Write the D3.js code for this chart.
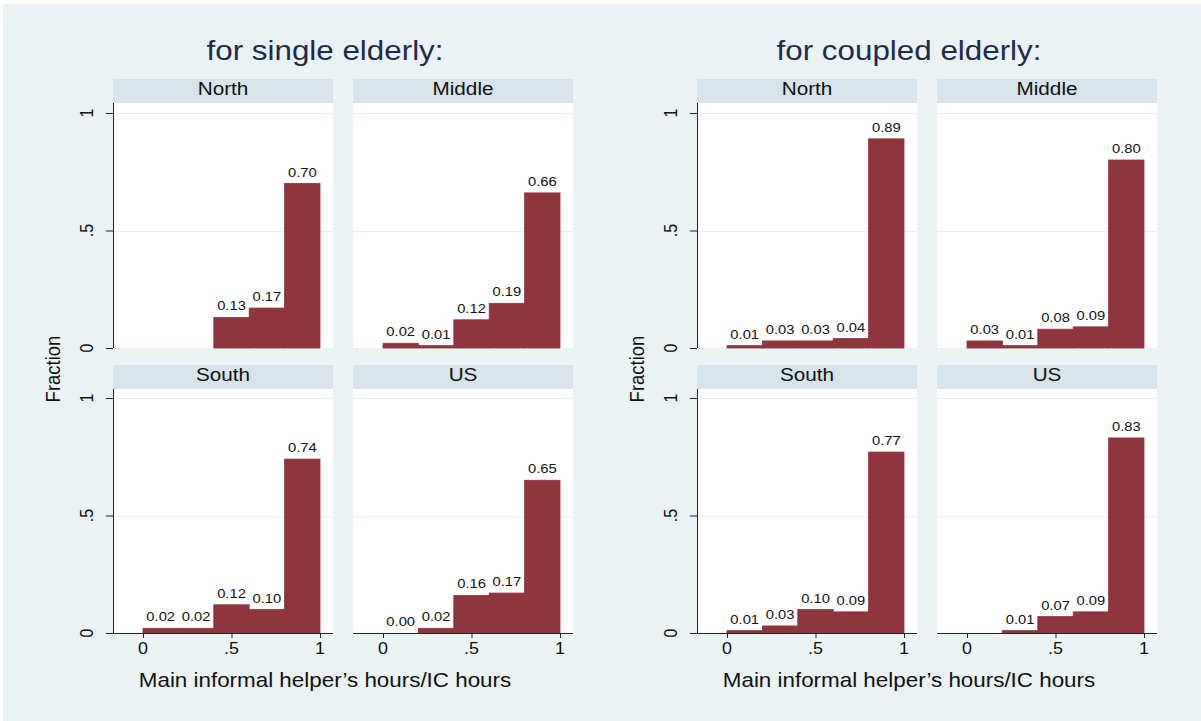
<!DOCTYPE html>
<html>
<head>
<meta charset="utf-8">
<script src="https://cdn.jsdelivr.net/npm/d3@7"></script>
<style>
  html, body { margin: 0; padding: 0; background: #ffffff; }
  svg { display: block; }
</style>
</head>
<body>
<svg id="chart" width="1201" height="721"></svg>
<script>
// Histogram bins (share of care hours given by the main informal helper)
const binEdges = [0, 0.2, 0.4, 0.6, 0.8, 1.0];
const regions = ["North", "Middle", "South", "US"];
const groupTitles = ["for single elderly:", "for coupled elderly:"];

// Fraction per bin; null = empty bin (no bar, no label)
const singleNorth  = [null, null, 0.13, 0.17, 0.70];
const singleMiddle = [0.02, 0.01, 0.12, 0.19, 0.66];
const singleSouth  = [0.02, 0.02, 0.12, 0.10, 0.74];
const singleUS     = [0.00, 0.02, 0.16, 0.17, 0.65];

const coupledNorth  = [0.01, 0.03, 0.03, 0.04, 0.89];
const coupledMiddle = [0.03, 0.01, 0.08, 0.09, 0.80];
const coupledSouth  = [0.01, 0.03, 0.10, 0.09, 0.77];
const coupledUS     = [null, 0.01, 0.07, 0.09, 0.83];

const xTicks = [0, 0.5, 1];
const xTickLabels = ["0", ".5", "1"];
const yTicks = [0, 0.5, 1];
const yTickLabels = ["0", ".5", "1"];

const xTitle = "Main informal helper\u2019s hours/IC hours";
const yTitle = "Fraction";

const groups = [
  [singleNorth, singleMiddle, singleSouth, singleUS],
  [coupledNorth, coupledMiddle, coupledSouth, coupledUS]
];

// ---- styling / layout ----
const FONT = "'Liberation Sans', Arial, Helvetica, sans-serif";
const SX = 1.12;                 // horizontal text stretch
const BG = "#EAF2F3";
const STRIP = "#D7E4E9";
const BAR = "#8E353D";
const GRID = "#E3ECEE";
const GRAPH_DX = 584;            // offset of the second combined graph

const cols = [{x0: 113, x1: 333, zero: 143}, {x0: 353, x1: 573, zero: 383}];
const rows = [{hTop: 79, pTop: 103, base: 348}, {hTop: 365, pTop: 389, base: 633}];
const UNIT_X = 177;              // px per 1.0 on the x axis
const UNIT_Y = 235;              // px per 1.0 on the y axis

const svg = d3.select("#chart");

svg.append("rect").attr("x", 3).attr("y", 4).attr("width", 1198).attr("height", 717)
  .attr("fill", BG);

function label(g, x, y, txt, opts = {}) {
  const rot = opts.rotate || 0;
  return g.append("text")
    .attr("transform", `translate(${x},${y}) scale(${SX},1)` + (rot ? ` rotate(${rot})` : ""))
    .attr("text-anchor", opts.anchor || "middle")
    .attr("font-family", FONT)
    .attr("font-size", opts.size || 14)
    .attr("fill", opts.color || "#111")
    .text(txt);
}

groups.forEach((panels, gi) => {
  const g = svg.append("g").attr("transform", `translate(${gi * GRAPH_DX},0)`);

  // group title
  label(g, 325, 60, groupTitles[gi], {size: 28, color: "#1E2B4E"});

  panels.forEach((vals, pi) => {
    const col = cols[pi % 2], row = rows[Math.floor(pi / 2)];

    const x = d3.scaleLinear().domain([0, 1]).range([col.zero, col.zero + UNIT_X]);
    const y = d3.scaleLinear().domain([0, 1]).range([row.base, row.base - UNIT_Y]);

    const p = g.append("g");

    // strip header
    p.append("rect").attr("x", col.x0).attr("y", row.hTop)
      .attr("width", col.x1 - col.x0).attr("height", row.pTop - row.hTop)
      .attr("fill", STRIP);
    label(p, (col.x0 + col.x1) / 2, row.hTop + 16, regions[pi], {size: 18.5, color: "#111"});

    // plot region
    p.append("rect").attr("x", col.x0).attr("y", row.pTop)
      .attr("width", col.x1 - col.x0).attr("height", row.base - row.pTop)
      .attr("fill", "#ffffff");

    // gridlines
    p.selectAll("line.grid").data(yTicks.filter(t => t > 0)).enter().append("line")
      .attr("class", "grid")
      .attr("x1", col.x0).attr("x2", col.x1)
      .attr("y1", d => Math.round(y(d)) + 0.5).attr("y2", d => Math.round(y(d)) + 0.5)
      .attr("stroke", GRID).attr("stroke-width", 1.2);

    // bars
    const bins = vals.map((v, i) => ({v, a: binEdges[i], b: binEdges[i + 1]}))
      .filter(d => d.v !== null);

    p.selectAll("rect.bar").data(bins).enter().append("rect")
      .attr("class", "bar")
      .attr("x", d => x(d.a)).attr("width", d => x(d.b) - x(d.a))
      .attr("y", d => y(d.v)).attr("height", d => y(0) - y(d.v))
      .attr("fill", BAR).attr("stroke", BAR).attr("stroke-width", 0.8);

    bins.forEach(d => {
      label(p, x((d.a + d.b) / 2), y(d.v) - 7, d.v.toFixed(2), {size: 13.2, color: "#111"});
    });

    // y axis (left column)
    if (pi % 2 === 0) {
      const ya = p.append("g").attr("transform", `translate(${col.x0},0)`)
        .call(d3.axisLeft(y).tickValues(yTicks).tickSize(7)
          .tickFormat((d, i) => yTickLabels[i]));
      ya.select(".domain").remove();
      ya.selectAll(".tick line").attr("stroke", "#222");
      ya.selectAll(".tick text").remove();
      ya.append("line").attr("x1", 0.5).attr("x2", 0.5)
        .attr("y1", row.pTop).attr("y2", row.base).attr("stroke", "#222");
      yTicks.forEach((t, i) => {
        label(p, col.x0 - 20, y(t), yTickLabels[i], {size: 16, rotate: -90, color: "#111"});
      });
    }

    // x axis (bottom row)
    if (pi >= 2) {
      const xa = p.append("g").attr("transform", `translate(0,${row.base})`)
        .call(d3.axisBottom(x).tickValues(xTicks).tickSize(5)
          .tickFormat((d, i) => xTickLabels[i]));
      xa.select(".domain").remove();
      xa.selectAll(".tick line").attr("stroke", "#222");
      xa.selectAll(".tick text").remove();
      xa.append("line").attr("x1", col.x0).attr("x2", col.x1)
        .attr("y1", 0.5).attr("y2", 0.5).attr("stroke", "#222");
      xTicks.forEach((t, i) => {
        label(p, x(t), row.base + 21, xTickLabels[i], {size: 16, color: "#111"});
      });
    }
  });

  // shared axis titles
  label(g, 60, 369, yTitle, {size: 18.5, rotate: -90, color: "#111"});
  label(g, 325, 687, xTitle, {size: 20, color: "#111"});
});
</script>
</body>
</html>
